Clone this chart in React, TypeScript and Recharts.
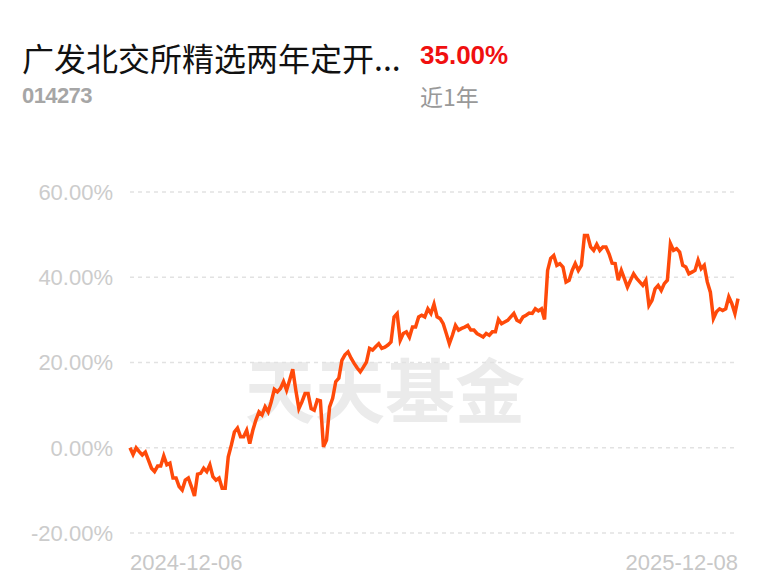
import { CartesianGrid, Line, LineChart, XAxis, YAxis } from "recharts";

// 近1年累计收益率 (%) from left to right
const returns = [
  0, -1.6, 0, -0.9, -1.7, -1.0, -2.9, -4.8, -5.6, -4.3, -4.3, -1.9, -4.0, -3.6, -7.1, -7.1,
  -9.1, -9.9, -7.6, -7.1, -9.1, -11.3, -6.2, -6.0, -4.8, -5.6, -4.0, -6.8, -7.6, -7.1, -9.5,
  -9.5, -2.1, 0.6, 3.7, 4.6, 2.6, 2.6, 4.1, 1.0, 4.1, 6.5, 8.4, 7.7, 9.6, 8.4, 10.8, 13.7,
  13.1, 13.9, 15.5, 13.5, 15.9, 18.4, 13.5, 9.2, 10.8, 12.7, 12.7, 9.2, 8.8, 11.2, 11.0, 0.2,
  1.8, 9.6, 11.6, 15.5, 16.3, 20.5, 21.8, 22.5, 21.0, 19.8, 18.7, 17.8, 18.9, 20.1, 23.3, 22.9,
  23.7, 24.4, 23.3, 23.6, 24.1, 24.8, 30.7, 31.5, 25.2, 26.8, 27.2, 25.9, 28.3, 28.3, 30.7,
  31.1, 30.7, 32.6, 31.5, 33.7, 30.7, 30.3, 29.1, 26.8, 24.4, 26.4, 28.7, 27.6, 28.0, 28.3,
  28.7, 27.6, 27.6, 26.8, 26.4, 26.0, 26.8, 26.4, 27.2, 27.2, 30.1, 29.1, 29.5, 29.9, 30.7,
  31.5, 29.9, 29.5, 30.7, 31.1, 31.6, 31.5, 32.6, 32.1, 32.6, 30.1, 41.6, 44.4, 45.1, 42.8,
  43.2, 42.4, 38.9, 39.3, 41.6, 43.2, 41.6, 42.8, 49.8, 49.8, 47.1, 46.3, 47.7, 46.3, 47.1,
  47.1, 45.5, 43.3, 43.2, 39.3, 41.6, 39.7, 37.7, 39.3, 40.8, 39.7, 38.9, 38.1, 39.3, 33.4,
  34.6, 37.3, 38.1, 36.9, 38.5, 39.3, 47.9, 46.3, 46.7, 45.9, 42.8, 42.4, 40.8, 41.2, 41.6,
  44.0, 42.0, 42.8, 38.9, 36.5, 30.3, 31.9, 32.6, 32.2, 32.6, 35.4, 33.8, 31.5, 35.0,
];

const dateLabels = ["2024-12-06", "2025-12-08"];
const yTicks = [-20, 0, 20, 40, 60];

const data = returns.map((v, i) => ({ i, v }));
const last = returns.length - 1;

const axisFont = "'Liberation Sans', Arial, sans-serif";
const cjkFont = "'Noto Sans CJK SC', sans-serif";

function DateTick(props: any) {
  const { x, y, index } = props;
  const first = index === 0;
  return (
    <text
      x={x}
      y={y + 37}
      textAnchor={first ? "start" : "end"}
      fill="#c8c8c8"
      fontSize={22}
      fontFamily={axisFont}
    >
      {first ? dateLabels[0] : dateLabels[1]}
    </text>
  );
}

export default function App() {
  return (
    <div style={{ position: "relative", width: 768, height: 585, margin: -8, background: "#fff", overflow: "hidden" }}>
      <div style={{ position: "absolute", left: 22, top: 38, fontSize: 32, lineHeight: "38px", fontFamily: cjkFont, color: "#111" }}>
        广发北交所精选两年定开...
      </div>
      <div style={{ position: "absolute", left: 420, top: 40, fontSize: 26, lineHeight: "30px", fontWeight: 700, fontFamily: axisFont, color: "#f01010" }}>
        35.00%
      </div>
      <div style={{ position: "absolute", left: 22, top: 83, fontSize: 22, lineHeight: "26px", fontWeight: 700, fontFamily: axisFont, color: "#a6a6a6", letterSpacing: -0.6 }}>
        014273
      </div>
      <div style={{ position: "absolute", left: 420, top: 82, fontSize: 23, lineHeight: "28px", fontFamily: cjkFont, color: "#999" }}>
        近1年
      </div>
      <div style={{ position: "absolute", left: 245, top: 346, fontSize: 70, lineHeight: "84px", fontWeight: 700, fontFamily: cjkFont, color: "#ebebeb", whiteSpace: "nowrap" }}>
        天天基金
      </div>
      <div style={{ position: "absolute", left: 0, top: 0 }}>
        <LineChart width={768} height={585} data={data} margin={{ top: 192, right: 30, bottom: 12, left: 10 }}>
          <CartesianGrid vertical={false} stroke="#e2e2e2" strokeWidth={1.5} strokeDasharray="4 4" />
          <XAxis
            dataKey="i"
            type="number"
            domain={[0, last]}
            ticks={[0, last]}
            axisLine={false}
            tickLine={false}
            tickSize={0}
            tickMargin={0}
            height={40}
            interval={0}
            tick={<DateTick />}
          />
          <YAxis
            domain={[-20, 60]}
            ticks={yTicks}
            width={120}
            axisLine={false}
            tickLine={false}
            tickSize={0}
            tickMargin={17}
            tickFormatter={(v: number) => v.toFixed(2) + "%"}
            tick={{ fill: "#cccccc", fontSize: 22, fontFamily: axisFont }}
          />
          <Line type="linear" dataKey="v" stroke="#ff4a0a" strokeWidth={3.5} dot={false} isAnimationActive={false} />
        </LineChart>
      </div>
    </div>
  );
}
